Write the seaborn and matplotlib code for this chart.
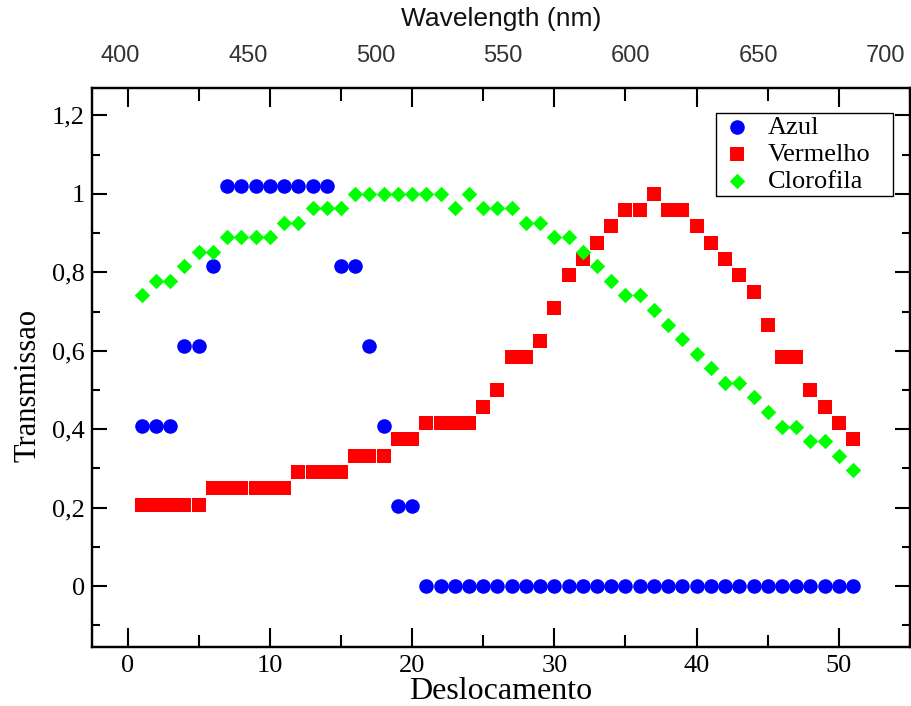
import matplotlib
matplotlib.use('Agg')
import matplotlib.pyplot as plt
import seaborn as sns
import pandas as pd
from matplotlib.ticker import MultipleLocator, FixedLocator, FixedFormatter

# ---- data -------------------------------------------------------------
deslocamento = [1, 2, 3, 4, 5, 6, 7, 8, 9, 10, 11, 12, 13, 14, 15, 16, 17,
                18, 19, 20, 21, 22, 23, 24, 25, 26, 27, 28, 29, 30, 31, 32,
                33, 34, 35, 36, 37, 38, 39, 40, 41, 42, 43, 44, 45, 46, 47,
                48, 49, 50, 51]

azul = [0.408, 0.408, 0.408, 0.612, 0.612, 0.816, 1.02, 1.02, 1.02, 1.02,
        1.02, 1.02, 1.02, 1.02, 0.816, 0.816, 0.612, 0.408, 0.204, 0.204,
        0, 0, 0, 0, 0, 0, 0, 0, 0, 0, 0, 0, 0, 0, 0, 0, 0, 0, 0, 0, 0, 0,
        0, 0, 0, 0, 0, 0, 0, 0, 0]

vermelho = [0.208, 0.208, 0.208, 0.208, 0.208, 0.25, 0.25, 0.25, 0.25, 0.25,
            0.25, 0.292, 0.292, 0.292, 0.292, 0.333, 0.333, 0.333, 0.375,
            0.375, 0.417, 0.417, 0.417, 0.417, 0.458, 0.5, 0.583, 0.583,
            0.625, 0.708, 0.792, 0.833, 0.875, 0.917, 0.958, 0.958, 1.0,
            0.958, 0.958, 0.917, 0.875, 0.833, 0.792, 0.75, 0.667, 0.583,
            0.583, 0.5, 0.458, 0.417, 0.375]

clorofila = [0.741, 0.778, 0.778, 0.815, 0.852, 0.852, 0.889, 0.889, 0.889,
             0.889, 0.926, 0.926, 0.963, 0.963, 0.963, 1.0, 1.0, 1.0, 1.0,
             1.0, 1.0, 1.0, 0.963, 1.0, 0.963, 0.963, 0.963, 0.926, 0.926,
             0.889, 0.889, 0.852, 0.815, 0.778, 0.741, 0.741, 0.704, 0.667,
             0.630, 0.593, 0.556, 0.519, 0.519, 0.481, 0.444, 0.407, 0.407,
             0.370, 0.370, 0.333, 0.296]

series_names = ['Azul', 'Vermelho', 'Clorofila']
x_major_ticks = [0, 10, 20, 30, 40, 50]
y_major_ticks = [0, 0.2, 0.4, 0.6, 0.8, 1.0, 1.2]
y_tick_labels = ['0', '0,2', '0,4', '0,6', '0,8', '1', '1,2']
wavelength_ticks = [400, 450, 500, 550, 600, 650, 700]
wavelength_labels = ['400', '450', '500', '550', '600', '650', '700']

# ---- figure -----------------------------------------------------------
plt.rcParams['font.family'] = ['Liberation Serif', 'DejaVu Serif']

df = pd.DataFrame({'Deslocamento': deslocamento,
                   'Azul': azul, 'Vermelho': vermelho, 'Clorofila': clorofila})

fig = plt.figure(figsize=(9.12, 7.06), dpi=100)
ax = fig.add_axes([0.1009, 0.0836, 0.8969, 0.7918])

styles = {
    'Azul': dict(marker='o', color='#0000ff', s=110),
    'Vermelho': dict(marker='s', color='#ff0000', s=90),
    'Clorofila': dict(marker='D', color='#00ff00', s=62),
}
for name in series_names:
    st = styles[name]
    sns.scatterplot(data=df, x='Deslocamento', y=name, marker=st['marker'],
                    color=st['color'], s=st['s'], linewidth=0, label=name,
                    ax=ax, zorder=3)

ax.set_xlim(-2.5, 55)
ax.set_ylim(-0.155, 1.27)

ax.xaxis.set_major_locator(FixedLocator(x_major_ticks))
ax.xaxis.set_minor_locator(MultipleLocator(5))
ax.yaxis.set_major_locator(FixedLocator(y_major_ticks))
ax.yaxis.set_major_formatter(FixedFormatter(y_tick_labels))
ax.yaxis.set_minor_locator(MultipleLocator(0.1))

ax.set_xlabel('Deslocamento', fontsize=23, labelpad=0)
ax.set_ylabel('Transmissao', fontsize=22)
ax.yaxis.set_label_coords(-0.061, 0.467)

# top wavelength axis
ax2 = ax.twiny()
ax2.set_xlim(389, 709.4)
ax2.xaxis.set_major_locator(FixedLocator(wavelength_ticks))
ax2.xaxis.set_major_formatter(FixedFormatter(wavelength_labels))
ax2.xaxis.set_minor_locator(FixedLocator([]))
ax2.tick_params(axis='x', which='both', length=0, pad=15, labelsize=17,
                labelcolor='#333333')
for lab in ax2.get_xticklabels():
    lab.set_fontfamily(['Liberation Sans', 'DejaVu Sans'])
ax2.set_xlabel('Wavelength (nm)', fontsize=19, labelpad=14,
               fontfamily=['Liberation Sans', 'DejaVu Sans'], color='#111111')

# ticks on all sides, inward
ax.tick_params(which='both', direction='in', top=True, right=True,
               labeltop=False, labelright=False, width=1.5, colors='black')
ax.tick_params(axis='x', which='major', length=14, labelsize=19, pad=6)
ax.tick_params(axis='x', which='minor', length=9)
ax.tick_params(axis='y', which='major', length=11, labelsize=19, pad=5)
ax.tick_params(axis='y', which='minor', length=6)

for a in (ax, ax2):
    for sp in a.spines.values():
        sp.set_linewidth(1.6)
        sp.set_color('black')

leg = ax.legend(loc='upper left', bbox_to_anchor=(0.763, 0.5, 0.216, 0.455),
                mode='expand', borderaxespad=0, frameon=True, fancybox=False,
                edgecolor='black', framealpha=1, fontsize=19,
                handletextpad=0.48, labelspacing=0.13, borderpad=0.1,
                handlelength=1.39)
leg.get_frame().set_linewidth(1.0)

fig.savefig('out.png', dpi=100)
